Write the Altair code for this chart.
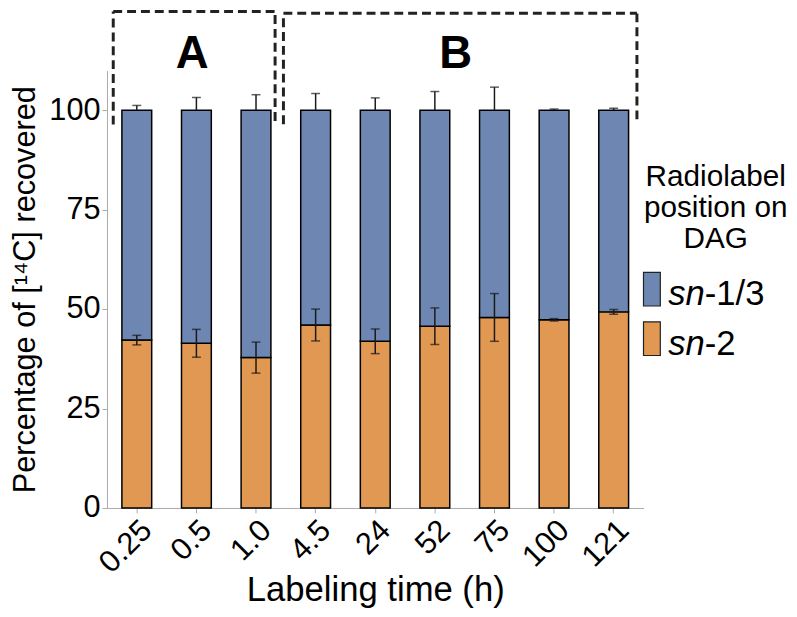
import altair as alt
import pandas as pd

# ---- data ----
times = ["0.25", "0.5", "1.0", "4.5", "24", "52", "75", "100", "121"]
sn2 = [42.2, 41.4, 37.8, 46.0, 41.9, 45.7, 47.9, 47.3, 49.3]
sn2_err = [1.2, 3.5, 3.9, 4.0, 3.1, 4.6, 6.0, 0.3, 0.6]
sn13 = [57.8, 58.6, 62.2, 54.0, 58.1, 54.3, 52.1, 52.7, 50.7]
sn13_err = [1.2, 3.2, 3.9, 4.2, 3.1, 4.7, 5.8, 0.3, 0.5]
series = ["sn-1/3", "sn-2"]
colors = ["#6d86b2", "#e09852"]

# bracket groups (in band units along the x axis, y in % units)
brk_x = [0.105, 2.82, 2.82, 0.105, 2.96, 8.89, 8.89, 2.96]
brk_x2 = [2.82, 2.82, 2.82, 0.105, 8.89, 8.89, 8.89, 2.96]
brk_y = [124.8, 124.8, 97.3, 96.4, 124.4, 124.4, 97.7, 96.5]
brk_y2 = [124.8, 124.8, 124.8, 124.8, 124.4, 124.4, 124.4, 124.4]
grp_labels = ["A", "B"]
grp_x = [1.43, 5.85]
grp_y = [114.1, 114.1]

FONT = "Liberation Sans"

rows = []
for t, a, ae, b, be in zip(times, sn2, sn2_err, sn13, sn13_err):
    rows.append(dict(time=t, series="sn-2", start=0, end=a,
                     lo=a - ae, hi=a + ae, cap_lo=True))
    rows.append(dict(time=t, series="sn-1/3", start=a, end=a + b,
                     lo=a + b, hi=a + b + be, cap_lo=False))
df = pd.DataFrame(rows)

ysc = alt.Scale(domain=[0, 110], nice=False, zero=True)
xsc = alt.Scale(domain=times, paddingInner=0.5, paddingOuter=0.25)

xenc = alt.X("time:N", sort=times, scale=xsc,
             axis=alt.Axis(title="Labeling time (h)", labelAngle=-45,
                           labelFontSize=31, titleFontSize=35,
                           labelColor="black", titleColor="black",
                           domainColor="#aaaaaa", tickColor="#aaaaaa",
                           tickSize=5, labelPadding=2, titlePadding=-5,
                           titleFontWeight="normal", labelFont=FONT, titleFont=FONT))

bars = alt.Chart(df).mark_bar(stroke="black", strokeWidth=1.5).encode(
    x=xenc,
    y=alt.Y("start:Q", scale=ysc,
            axis=alt.Axis(title="Percentage of [¹⁴C] recovered",
                          values=[0, 25, 50, 75, 100], grid=False,
                          labelFontSize=31, titleFontSize=31,
                          labelColor="black", titleColor="black",
                          domainColor="#aaaaaa", tickColor="#aaaaaa",
                          tickSize=5, labelPadding=2, titlePadding=8,
                          titleFontWeight="normal", labelFont=FONT, titleFont=FONT)),
    y2="end:Q",
    fill=alt.Fill("series:N", scale=alt.Scale(domain=series, range=colors), legend=None),
)

xplain = alt.X("time:N", sort=times, scale=xsc, axis=None)
err = alt.Chart(df).mark_rule(color="#1a1a1a", strokeWidth=1.5).encode(
    x=xplain,
    y=alt.Y("lo:Q", scale=ysc),
    y2="hi:Q",
)
cap_hi = alt.Chart(df).mark_tick(color="#1a1a1a", thickness=1.5, size=9).encode(
    x=xplain,
    y=alt.Y("hi:Q", scale=ysc),
)
cap_lo = alt.Chart(df).transform_filter("datum.cap_lo").mark_tick(
    color="#1a1a1a", thickness=1.5, size=9).encode(
    x=xplain,
    y=alt.Y("lo:Q", scale=ysc),
)

bdf = pd.DataFrame(dict(x=brk_x, x2=brk_x2, y=brk_y, y2=brk_y2))
bxsc = alt.Scale(domain=[0, len(times)], nice=False, zero=False)
brackets = alt.Chart(bdf).mark_rule(color="#222222", strokeWidth=3,
                                    strokeDash=[9, 5]).encode(
    x=alt.X("x:Q", scale=bxsc, axis=None),
    x2="x2:Q",
    y=alt.Y("y:Q", scale=ysc),
    y2="y2:Q",
)
gdf = pd.DataFrame(dict(label=grp_labels, x=grp_x, y=grp_y))
glabels = alt.Chart(gdf).mark_text(fontSize=46, fontWeight="bold", font=FONT,
                                   color="black", baseline="middle").encode(
    x=alt.X("x:Q", scale=bxsc, axis=None),
    y=alt.Y("y:Q", scale=ysc),
    text="label:N",
)

# ---- manual legend ----
one = pd.DataFrame({"a": [0]})
title_lines = pd.DataFrame({"t": ["Radiolabel", "position on", "DAG"],
                            "yy": [117, 148, 179]})
leg_title = alt.Chart(title_lines).mark_text(
    fontSize=30, font=FONT, align="center", baseline="alphabetic", color="black").encode(
    x=alt.value(615), y=alt.Y("yy:Q", scale=None), text="t:N")

LFS = 35
sn_w = 1.056 * LFS
leg = []
for i, (lab, col) in enumerate(zip(["-1/3", "-2"], colors)):
    top = 204 + 50 * i
    leg.append(alt.Chart(one).mark_rect(fill=col, stroke="#222222", strokeWidth=1.2).encode(
        x=alt.value(542), x2=alt.value(559), y=alt.value(top), y2=alt.value(top + 34)))
    leg.append(alt.Chart(one).mark_text(
        text="sn", fontSize=LFS, fontStyle="italic", font=FONT, align="left",
        baseline="alphabetic", color="black").encode(
        x=alt.value(567), y=alt.value(top + 33)))
    leg.append(alt.Chart(one).mark_text(
        text=lab, fontSize=LFS, font=FONT, align="left",
        baseline="alphabetic", color="black").encode(
        x=alt.value(567 + sn_w), y=alt.value(top + 33)))

chart = alt.layer(bars, err, cap_hi, cap_lo, brackets, glabels, leg_title, *leg).resolve_scale(
    x="independent"
).properties(
    width=542, height=442,
    padding={"left": 100, "top": 60, "right": 147, "bottom": 100},
    autosize=alt.AutoSizeParams(type="none"),
).configure(font=FONT).configure_view(strokeWidth=0, stroke="transparent")

chart.save("out.html", embed_options={"renderer": "svg", "actions": False})
